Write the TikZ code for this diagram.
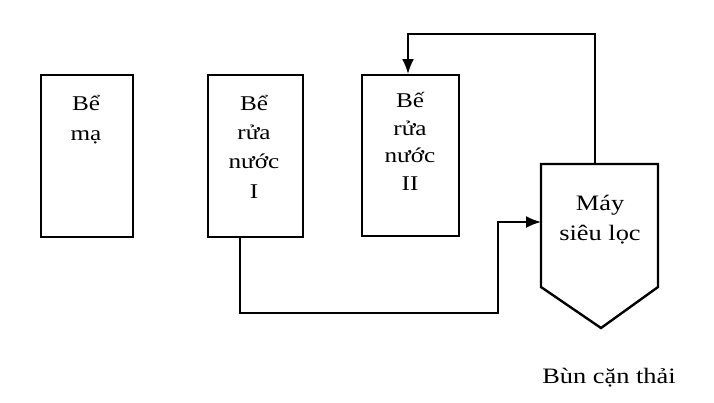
\documentclass[tikz,border=0pt]{standalone}
\usepackage{fontspec}
\setmainfont[FakeStretch=1.2]{Liberation Serif}
\usetikzlibrary{arrows.meta}
\begin{document}
\begin{tikzpicture}[x=1pt,y=-1pt,
  tank/.style={draw,line width=2.4pt,minimum width=92pt,minimum height=162pt,inner sep=0pt,anchor=north west},
  lbl/.style={align=center,inner sep=0pt,anchor=base,font=\fontsize{21}{29}\selectfont},
  big/.style={align=center,inner sep=0pt,anchor=base,font=\fontsize{22}{30}\selectfont},
  conn/.style={line width=1.8pt},
  tip/.style={-{Latex[length=15pt,width=12pt]}}]
\useasboundingbox (0,0) rectangle (714,402);
% tanks
\node[tank] (b1) at (40,74) {};
\node[tank,minimum width=95pt] (b2) at (207,74) {};
\node[tank,minimum width=97pt,minimum height=161pt] (b3) at (361,74) {};
\node[lbl,font=\fontsize{21}{30}\selectfont] (t1) at (86,140) {Bể\\mạ};
\node[lbl,font=\fontsize{21}{29.3}\selectfont] (t2) at (254,198) {Bể\\rửa\\nước\\I};
\node[lbl,font=\fontsize{21}{27.5}\selectfont] (t3) at (410,190) {Bế\\rửa\\nước\\II};
% ultrafilter
\coordinate (m1) at (541,164);
\coordinate (m2) at (658,164);
\coordinate (m3) at (658,287);
\coordinate (m4) at (601,328);
\coordinate (m5) at (541,287);
\coordinate (mtop) at (595,164);
\coordinate (mleft) at (541,222);
\draw[line width=2.4pt,line join=miter] (m1) -- (m2) -- (m3) -- (m4) -- (m5) -- cycle;
\node[big] (t4) at (600,240) {Máy\\siêu lọc};
\node[big] (t5) at (609,383) {Bùn cặn thải};
% connectors
\coordinate (p1) at (240,313);
\coordinate (p2) at (498,222);
\coordinate (p3) at (408,34);
\draw[conn,tip] (b2.south -| p1) -- (p1) -| (p2) -- (mleft);
\draw[conn,tip] (mtop) |- (p3) -- (b3.north -| p3);
\end{tikzpicture}
\end{document}
